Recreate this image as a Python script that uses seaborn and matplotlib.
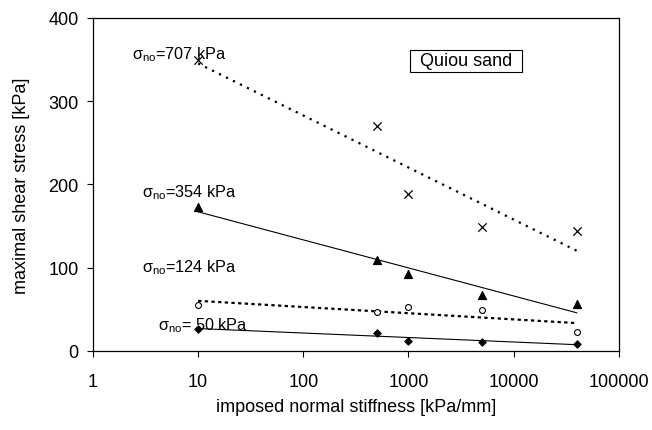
import numpy as np
import pandas as pd
import matplotlib
matplotlib.use("Agg")
import matplotlib.pyplot as plt
from matplotlib.patches import Rectangle
import seaborn as sns

# Imposed normal stiffness [kPa/mm] and peak shear stress [kPa] per initial normal stress
stiffness = [10, 500, 1000, 5000, 40000]
tau_707 = [350, 270, 189, 149, 144]
tau_354 = [173, 109, 93, 67, 57]
tau_124 = [55, 47, 53, 49, 23]
tau_50 = [27, 22, 12, 11, 9]

series_names = ["707", "354", "124", "50"]
series_values = [tau_707, tau_354, tau_124, tau_50]
x_ticks = [1, 10, 100, 1000, 10000, 100000]
x_tick_labels = ["1", "10", "100", "1000", "10000", "100000"]
y_ticks = [0, 100, 200, 300, 400]

sns.set_style("ticks")
plt.rcParams["font.family"] = ["Liberation Sans", "DejaVu Sans"]
plt.rcParams["mathtext.fontset"] = "custom"
plt.rcParams["mathtext.rm"] = "Liberation Sans"
plt.rcParams["mathtext.it"] = "Liberation Sans"
for key in ["text.color", "axes.labelcolor", "xtick.color", "ytick.color",
            "xtick.labelcolor", "ytick.labelcolor"]:
    plt.rcParams[key] = "black"

fig = plt.figure(figsize=(6.52, 4.31), dpi=100)
ax = fig.add_axes([0.1426, 0.1833, 0.8064, 0.7727])

# marker, face colour, marker area, trend line style and width
styles = {
    "707": dict(marker="x", face="black", s=36, ls=(0, (1, 2.5)), lw=1.6),
    "354": dict(marker="^", face="black", s=34, ls="-", lw=0.8),
    "124": dict(marker="o", face="white", s=18, ls=(0, (1.5, 1.5)), lw=1.6),
    "50": dict(marker="D", face="black", s=14, ls="-", lw=0.8),
}

for name, vals in zip(series_names, series_values):
    st = styles[name]
    df = pd.DataFrame({"k": stiffness, "tau": vals})
    # logarithmic trend line tau = a + b*ln(k)
    sns.regplot(data=df, x="k", y="tau", logx=True, ci=None, scatter=False,
                ax=ax, color="black",
                line_kws=dict(linestyle=st["ls"], linewidth=st["lw"]))
    if st["marker"] == "x":
        sns.scatterplot(data=df, x="k", y="tau", marker="x", color="black",
                        s=st["s"], linewidth=0.9, ax=ax, zorder=3)
    else:
        sns.scatterplot(data=df, x="k", y="tau", marker=st["marker"],
                        facecolor=st["face"], edgecolor="black",
                        s=st["s"], linewidth=0.8, ax=ax, zorder=3)

ax.set_xscale("log")
ax.set_xlim(1, 100000)
ax.set_ylim(0, 400)
ax.set_xticks(x_ticks)
ax.set_xticklabels(x_tick_labels)
ax.xaxis.set_minor_locator(matplotlib.ticker.NullLocator())
ax.set_yticks(y_ticks)
ax.tick_params(axis="both", labelsize=13, length=4.5, width=0.8, color="black",
               direction="out")
ax.tick_params(axis="x", pad=11)
ax.tick_params(axis="y", pad=6)
for sp in ax.spines.values():
    sp.set_visible(True)
    sp.set_color("black")
    sp.set_linewidth(0.9)

ax.set_xlabel("imposed normal stiffness [kPa/mm]", fontsize=13, labelpad=6)
ax.set_ylabel("maximal shear stress [kPa]", fontsize=13, labelpad=13)

# Curve labels
label_pos = {"707": (132, 55), "354": (142, 193), "124": (142, 268), "50": (158, 326)}
label_text = {"707": "=707 kPa", "354": "=354 kPa", "124": "=124 kPa", "50": "= 50 kPa"}
for name in series_names:
    px, py = label_pos[name]
    fig.text(px / 652, 1 - py / 431, r"$\sigma_{\rm no}$" + label_text[name],
             fontsize=11.7, ha="left", va="center")

# Material caption in a framed box
fig.patches.append(Rectangle((410 / 652, 1 - 73 / 431), 112 / 652, 22 / 431,
                             transform=fig.transFigure, facecolor="white",
                             edgecolor="black", linewidth=0.8, zorder=5))
fig.text(466 / 652, 1 - 62 / 431, "Quiou sand", fontsize=13, ha="center",
         va="center", zorder=6)

fig.savefig("out.png", dpi=100)
